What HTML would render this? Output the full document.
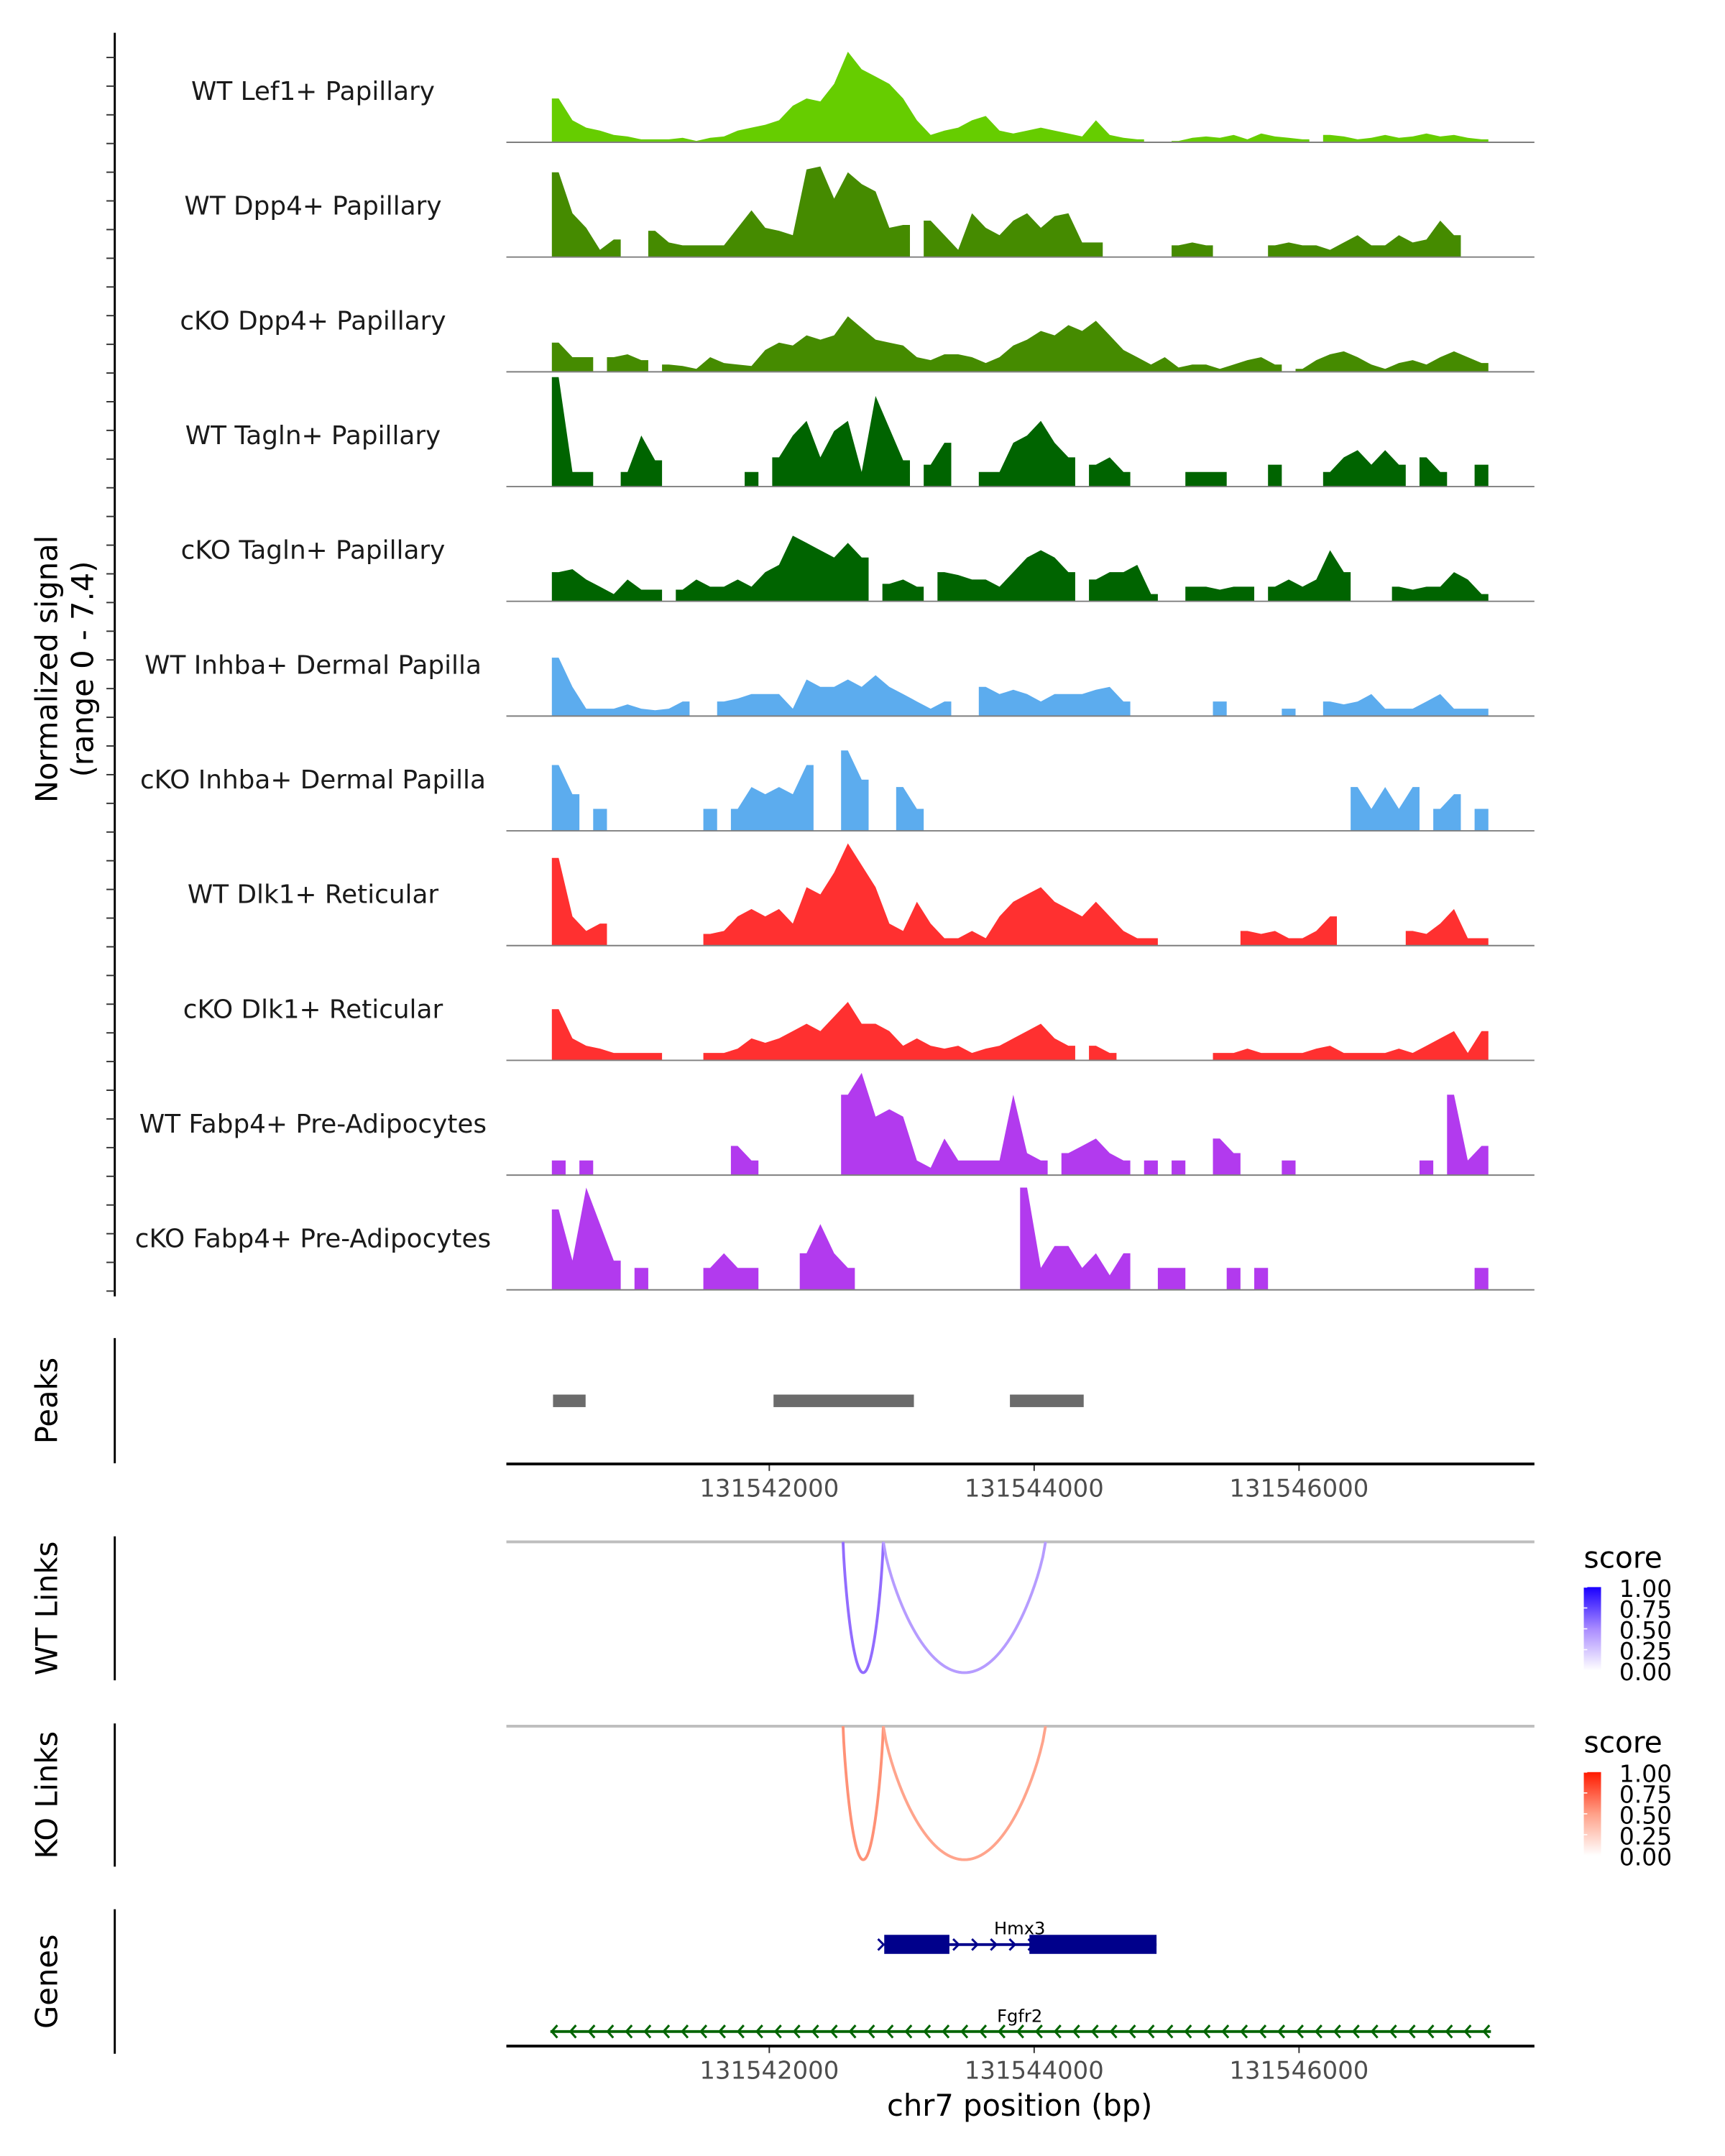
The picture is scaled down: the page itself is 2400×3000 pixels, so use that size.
<!DOCTYPE html>
<html><head><meta charset="utf-8"><style>
html,body{margin:0;padding:0;background:#fff;}
svg{display:block;}
text{font-family:"DejaVu Sans","Liberation Sans",sans-serif;}
</style></head><body>
<svg id="chart" xmlns="http://www.w3.org/2000/svg" width="2400" height="3000" viewBox="0 0 1240 1550">
<defs>
<linearGradient id="gblue" x1="0" y1="1" x2="0" y2="0"><stop offset="0" stop-color="#ffffff"/><stop offset="0.5" stop-color="#a98bff"/><stop offset="1" stop-color="#1a00ff"/></linearGradient>
<linearGradient id="gred" x1="0" y1="1" x2="0" y2="0"><stop offset="0" stop-color="#ffffff"/><stop offset="0.5" stop-color="#ffa088"/><stop offset="1" stop-color="#ff1a00"/></linearGradient>
</defs>
<g id="tracks"></g>
<g id="other"></g>
</svg>
<script>
const trackNames = ["WT Lef1+ Papillary","WT Dpp4+ Papillary","cKO Dpp4+ Papillary","WT Tagln+ Papillary","cKO Tagln+ Papillary","WT Inhba+ Dermal Papilla","cKO Inhba+ Dermal Papilla","WT Dlk1+ Reticular","cKO Dlk1+ Reticular","WT Fabp4+ Pre-Adipocytes","cKO Fabp4+ Pre-Adipocytes"];
const trackColors = ["#66cd00","#458b00","#458b00","#006400","#006400","#5cacee","#5cacee","#ff3030","#ff3030","#b23aee","#b23aee"];
const binStart = 131540358;
const binSize = 104;
const sigLef1WT = [3.0,1.5,1.0,0.8,0.5,0.4,0.2,0.2,0.2,0.3, 0.1,0.3,0.4,0.8,1.0,1.2,1.5,2.5,3.0,2.8, 4.0,6.2,5.0,4.5,4.0,3.0,1.5,0.5,0.8,1.0, 1.5,1.8,0.8,0.6,0.8,1.0,0.8,0.6,0.4,1.5, 0.5,0.3,0.2,0,0,0.1,0.3,0.4,0.3,0.5, 0.2,0.6,0.4,0.3,0.2,0,0.5,0.4,0.2,0.3, 0.5,0.3,0.4,0.6,0.4,0.5,0.3,0.2];
const sigDpp4WT = [5.8,3.0,2.0,0.5,1.2,0,0,1.8,1.0,0.8, 0.8,0.8,0.8,2.0,3.2,2.0,1.8,1.5,6.0,6.2, 4.0,5.8,5.0,4.5,2.0,2.2,0,2.5,1.5,0.5, 3.0,2.0,1.5,2.5,3.0,2.0,2.8,3.0,1.0,1.0, 0,0,0,0,0,0.8,1.0,0.8,0,0, 0,0,0.8,1.0,0.8,0.8,0.5,1.0,1.5,0.8, 0.8,1.5,1.0,1.2,2.5,1.5,0,0];
const sigDpp4KO = [2.0,1.0,1.0,0,1.0,1.2,0.8,0,0.5,0.4, 0.2,1.0,0.6,0.5,0.4,1.5,2.0,1.8,2.5,2.2, 2.5,3.8,3.0,2.2,2.0,1.8,1.0,0.8,1.2,1.2, 1.0,0.6,1.0,1.8,2.2,2.8,2.5,3.2,2.8,3.5, 2.5,1.5,1.0,0.5,1.0,0.3,0.5,0.5,0.2,0.5, 0.8,1.0,0.5,0,0.2,0.8,1.2,1.4,1.0,0.5, 0.2,0.6,0.8,0.5,1.0,1.4,1.0,0.6];
const sigTaglnWT = [7.5,1.0,1.0,0,0,1.0,3.5,1.8,0,0, 0,0,0,0,1.0,0,2.0,3.5,4.5,2.0, 3.8,4.5,1.0,6.2,4.0,1.8,0,1.5,3.0,0, 0,1.0,1.0,3.0,3.5,4.5,3.0,2.0,0,1.5, 2.0,1.0,0,0,0,0,1.0,1.0,1.0,0, 0,0,1.5,0,0,0,1.0,2.0,2.5,1.5, 2.5,1.5,0,2.0,1.0,0,0,1.5];
const sigTaglnKO = [2.0,2.2,1.5,1.0,0.5,1.5,0.8,0.8,0,0.8, 1.5,1.0,1.0,1.5,1.0,2.0,2.5,4.5,4.0,3.5, 3.0,4.0,3.0,0,1.2,1.5,1.0,0,2.0,1.8, 1.5,1.5,1.0,2.0,3.0,3.5,3.0,2.0,0,1.5, 2.0,2.0,2.5,0.5,0,0,1.0,1.0,0.8,1.0, 1.0,0,1.0,1.5,1.0,1.5,3.5,2.0,0,0, 0,1.0,0.8,1.0,1.0,2.0,1.5,0.5];
const sigInhbaWT = [4.0,2.0,0.5,0.5,0.5,0.8,0.5,0.4,0.5,1.0, 0,0,1.0,1.2,1.5,1.5,1.5,0.5,2.5,2.0, 2.0,2.5,2.0,2.8,2.0,1.5,1.0,0.5,1.0,0, 0,2.0,1.5,1.8,1.5,1.0,1.5,1.5,1.5,1.8, 2.0,1.0,0,0,0,0,0,0,1.0,0, 0,0,0,0.5,0,0,1.0,0.8,1.0,1.5, 0.5,0.5,0.5,1.0,1.5,0.5,0.5,0.5];
const sigInhbaKO = [4.5,2.5,0,1.5,0,0,0,0,0,0, 0,1.5,0,1.5,3.0,2.5,3.0,2.5,4.5,0, 0,5.5,3.5,0,0,3.0,1.5,0,0,0, 0,0,0,0,0,0,0,0,0,0, 0,0,0,0,0,0,0,0,0,0, 0,0,0,0,0,0,0,0,3.0,1.5, 3.0,1.5,3.0,0,1.5,2.5,0,1.5];
const sigDlk1WT = [6.0,2.0,1.0,1.5,0,0,0,0,0,0, 0,0.8,1.0,2.0,2.5,2.0,2.5,1.5,4.0,3.5, 5.0,7.0,5.5,4.0,1.5,1.0,3.0,1.5,0.5,0.5, 1.0,0.5,2.0,3.0,3.5,4.0,3.0,2.5,2.0,3.0, 2.0,1.0,0.5,0.5,0,0,0,0,0,0, 1.0,0.8,1.0,0.5,0.5,1.0,2.0,0,0,0, 0,0,1.0,0.8,1.5,2.5,0.5,0.5];
const sigDlk1KO = [3.5,1.5,1.0,0.8,0.5,0.5,0.5,0.5,0,0, 0,0.5,0.5,0.8,1.5,1.2,1.5,2.0,2.5,2.0, 3.0,4.0,2.5,2.5,2.0,1.0,1.5,1.0,0.8,1.0, 0.5,0.8,1.0,1.5,2.0,2.5,1.5,1.0,0,1.0, 0.5,0,0,0,0,0,0,0,0.5,0.5, 0.8,0.5,0.5,0.5,0.5,0.8,1.0,0.5,0.5,0.5, 0.5,0.8,0.5,1.0,1.5,2.0,0.5,2.0];
const sigFabp4WT = [1.0,0,1.0,0,0,0,0,0,0,0, 0,0,0,2.0,1.0,0,0,0,0,0, 0,5.5,7.0,4.0,4.5,4.0,1.0,0.5,2.5,1.0, 1.0,1.0,1.0,5.5,1.5,1.0,0,1.5,2.0,2.5, 1.5,1.0,0,1.0,0,1.0,0,0,2.5,1.5, 0,0,0,1.0,0,0,0,0,0,0, 0,0,0,1.0,0,5.5,1.0,2.0];
const sigFabp4KO = [5.5,2.0,7.0,4.5,2.0,0,1.5,0,0,0, 0,1.5,2.5,1.5,1.5,0,0,0,2.5,4.5, 2.5,1.5,0,0,0,0,0,0,0,0, 0,0,0,0,7.0,1.5,3.0,3.0,1.5,2.5, 1.0,2.5,0,0,1.5,1.5,0,0,0,1.5, 0,1.5,0,0,0,0,0,0,0,0, 0,0,0,0,0,0,0,1.5];
const trackSignals = [sigLef1WT,sigDpp4WT,sigDpp4KO,sigTaglnWT,sigTaglnKO,sigInhbaWT,sigInhbaKO,sigDlk1WT,sigDlk1KO,sigFabp4WT,sigFabp4KO];
const peakStarts = [131540367,131542032,131543817];
const peakEnds = [131540613,131543092,131544374];
const xTicks = [131542000,131544000,131546000];
const linkStarts = [131542557,131542861];
const linkEnds = [131542861,131544086];
const wtLinkScores = [0.7,0.4];
const koLinkScores = [0.6,0.45];
const geneNames = ["Hmx3","Fgfr2"];
const geneStarts = [131542868,131540347];
const geneEnds = [131544924,131547449];
const hmx3ExonStarts = [131542868,131543964];
const hmx3ExonEnds = [131543360,131544924];

const NS="http://www.w3.org/2000/svg";
function X(bp){return 553+(bp-131542000)*0.0952;}
const PX0=364, PX1=1103;
const base0=102.3, trackStep=82.5, ySc=10.5;
function el(tag,attrs,parent,txt){const e=document.createElementNS(NS,tag);for(const k in attrs)e.setAttribute(k,attrs[k]);if(txt!==undefined)e.textContent=txt;parent.appendChild(e);return e;}
const T=document.getElementById('tracks');
const O=document.getElementById('other');

let ax=el('line',{x1:82.5,y1:23.6,x2:82.5,y2:932,stroke:'#000','stroke-width':1.5},O);


for(let y=41.3;y<=932;y+=20.625){
  const t=el('line',{x1:76.5,y1:y,x2:82.5,y2:y,stroke:'#333','stroke-width':1},O);
  
  
}
let yt=el('text',{transform:'translate(41,481) rotate(-90)','text-anchor':'middle','font-size':21.5,fill:'#000'},O,'Normalized signal');


let yt2=el('text',{transform:'translate(67,481) rotate(-90)','text-anchor':'middle','font-size':21.5,fill:'#000'},O,'(range 0 - 7.4)');



trackSignals.forEach((sig,ti)=>{
  const by=base0+ti*trackStep;
  const g=el('g',{},T);
  
  
  let pts=[[X(binStart),by],[X(binStart),by-sig[0]*ySc]];
  sig.forEach((v,i)=>{
    const xa=X(binStart+i*binSize), xb=X(binStart+(i+1)*binSize);
    const prev=i>0?sig[i-1]:v, next=i<sig.length-1?sig[i+1]:v;
    if(v>0&&prev===0) pts.push([xa,by],[xa,by-v*ySc]);
    pts.push([(xa+xb)/2,by-v*ySc]);
    if(v>0&&next===0) pts.push([xb,by-v*ySc],[xb,by]);
  });
  const last=X(binStart+sig.length*binSize);
  pts.push([last,by-sig[sig.length-1]*ySc],[last,by]);
  const p=el('polygon',{points:pts.map(q=>q[0].toFixed(1)+','+q[1].toFixed(1)).join(' '),fill:trackColors[ti]},g);
  
  
  const bl=el('line',{x1:PX0,y1:by,x2:PX1,y2:by,stroke:'#7f7f7f','stroke-width':1},g);
  
  
  const lb=el('text',{x:225,y:by-30.5,'text-anchor':'middle','font-size':18.5,fill:'#1a1a1a'},g,trackNames[ti]);
  
  
});

function sideAxis(y1,y2,label,name){
  const l=el('line',{x1:82.5,y1:y1,x2:82.5,y2:y2,stroke:'#000','stroke-width':1.5},O);
  
  
  const t=el('text',{transform:'translate(41,'+((y1+y2)/2)+') rotate(-90)','text-anchor':'middle','font-size':21.5,fill:'#000'},O,label);
  
  
}
sideAxis(962,1052,'Peaks','peaks');
sideAxis(1104.5,1208,'WT Links','wt-links');
sideAxis(1239,1342,'KO Links','ko-links');
sideAxis(1372.6,1476.5,'Genes','genes');

peakStarts.forEach((s,i)=>{
  const r=el('rect',{x:X(s),y:1002.6,width:X(peakEnds[i])-X(s),height:9,fill:'#6b6b6b'},O);
  
  
});

function xAxis(y,name){
  const l=el('line',{x1:PX0,y1:y,x2:PX1,y2:y,stroke:'#000','stroke-width':2},O);
  
  
  xTicks.forEach(v=>{
    const t=el('line',{x1:X(v),y1:y+1,x2:X(v),y2:y+5,stroke:'#333','stroke-width':1},O);
    
    
    const tl=el('text',{x:X(v),y:y+23.5,'text-anchor':'middle','font-size':17.5,fill:'#4d4d4d'},O,String(v));
    
    
  });
}
xAxis(1052.5,'peaks-x-axis');
xAxis(1471,'genes-x-axis');
let xt=el('text',{x:733,y:1521,'text-anchor':'middle','font-size':21.5,fill:'#000'},O,'chr7 position (bp)');



function mix(c0,c1,t){return 'rgb('+c0.map((v,i)=>Math.round(v+(c1[i]-v)*t)).join(',')+')';}
function links(baseY,depth,scores,lo,hi,name){
  const bl=el('line',{x1:PX0,y1:baseY,x2:PX1,y2:baseY,stroke:'#bebebe','stroke-width':2},O);
  
  
  linkStarts.forEach((s,i)=>{
    const a=X(s),b=X(linkEnds[i]);
    let d=`M${a},${baseY}`;
    for(let k=1;k<=60;k++){const t=k/60;const x=a+(b-a)*t;const y=baseY+depth*Math.pow(4*t*(1-t),0.8);d+=` L${x.toFixed(2)},${y.toFixed(2)}`;}
    const p=el('path',{d:d,fill:'none',stroke:mix(lo,hi,scores[i]),'stroke-width':2},O);
    
    
  });
}
links(1108.5,94,wtLinkScores,[230,220,255],[110,60,255],'wt-link');
links(1241,96,koLinkScores,[255,220,205],[255,95,60],'ko-link');

function legend(top,grad,name){
  const t=el('text',{x:1138.5,y:top-14,'font-size':21,fill:'#000'},O,'score');
  
  
  const r=el('rect',{x:1138.5,y:top,width:12.4,height:60,fill:'url(#'+grad+')'},O);
  
  
  ['1.00','0.75','0.50','0.25','0.00'].forEach((s,i)=>{
    const y=top+i*15;
    const tk=el('line',{x1:1138.5,y1:y,x2:1141,y2:y,stroke:'#fff','stroke-width':0.8},O);
    
    
    const l=el('text',{x:1164,y:y+7,'font-size':17,fill:'#000'},O,s);
    
    
  });
}
legend(1141,'gblue','wt-legend');
legend(1274,'gred','ko-legend');

const hy=1398;
let hl=el('line',{x1:X(geneStarts[0]),y1:hy,x2:X(geneEnds[0]),y2:hy,stroke:'#00008b','stroke-width':2},O);


for(let x=X(geneStarts[0])-2;x<X(geneEnds[0]);x+=13.5){
  const c=el('path',{d:`M${x-2.5},${hy-4} L${x+1.5},${hy} L${x-2.5},${hy+4}`,fill:'none',stroke:'#00008b','stroke-width':1.5},O);
  
  
}
hmx3ExonStarts.forEach((s,i)=>{
  const r=el('rect',{x:X(s),y:1391,width:X(hmx3ExonEnds[i])-X(s),height:13.7,fill:'#00008b'},O);
  
  
});
let hn=el('text',{x:733,y:1390.5,'text-anchor':'middle','font-size':12.5,fill:'#000'},O,geneNames[0]);


const fy=1460.5;
let fl=el('line',{x1:X(geneStarts[1]),y1:fy,x2:X(geneEnds[1]),y2:fy,stroke:'#006400','stroke-width':2},O);


for(let x=X(geneStarts[1])+2;x<X(geneEnds[1]);x+=13.4){
  const c=el('path',{d:`M${x+3},${fy-4.5} L${x-1},${fy} L${x+3},${fy+4.5}`,fill:'none',stroke:'#006400','stroke-width':1.6},O);
  
  
}
let fn=el('text',{x:733,y:1453.6,'text-anchor':'middle','font-size':12.5,fill:'#000'},O,geneNames[1]);


</script>
</body></html>
